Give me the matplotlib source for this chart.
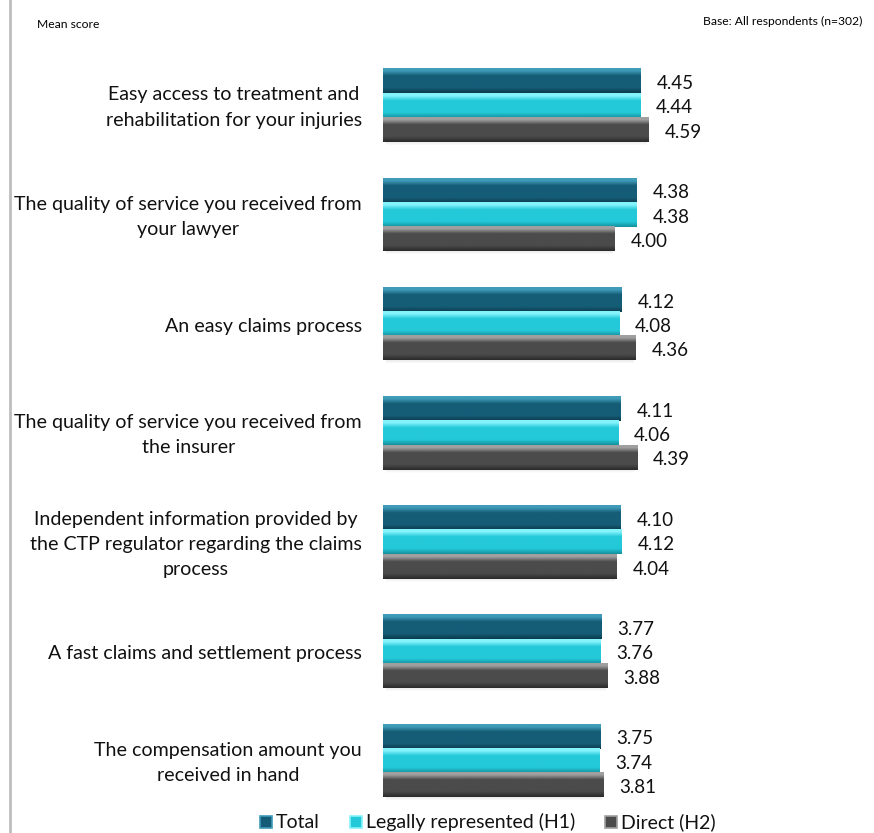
import numpy as np
import matplotlib.pyplot as plt
from matplotlib.patches import Rectangle
from matplotlib.colors import to_rgb
from matplotlib.lines import Line2D
import matplotlib.transforms as mtransforms

plt.rcParams['font.family'] = ['Lato', 'DejaVu Sans']

categories = [
    'Easy access to treatment and\nrehabilitation for your injuries',
    'The quality of service you received from\nyour lawyer',
    'An easy claims process',
    'The quality of service you received from\nthe insurer',
    'Independent information provided by\nthe CTP regulator regarding the claims\nprocess',
    'A fast claims and settlement process',
    'The compensation amount you\nreceived in hand',
]
total = [4.45, 4.38, 4.12, 4.11, 4.10, 3.77, 3.75]
legal = [4.44, 4.38, 4.08, 4.06, 4.12, 3.76, 3.74]
direct = [4.59, 4.00, 4.36, 4.39, 4.04, 3.88, 3.81]
series_names = ['Total', 'Legally represented (H1)', 'Direct (H2)']

# (highlight, body, dark edge) for each series
palettes = [
    ('#3f9bb8', '#155d77', '#0c3b4d'),
    ('#85f3fb', '#24c9d9', '#13909d'),
    ('#a0a0a0', '#4b4b4b', '#2a2a2a'),
]


def bevel_gradient(hi, body, lo, n=60):
    hi, body, lo = (np.array(to_rgb(c)) for c in (hi, body, lo))
    rows = []
    for v in np.linspace(0, 1, n):
        if v < 0.1:
            c = hi
        elif v < 0.3:
            c = hi + (body - hi) * ((v - 0.1) / 0.2)
        elif v < 0.78:
            c = body
        else:
            c = body + (lo - body) * ((v - 0.78) / 0.22)
        rows.append(c)
    return np.array(rows)[:, None, :]


W, H = 874, 833
fig = plt.figure(figsize=(W / 100, H / 100), dpi=100)

px_per_unit = 57.9
x0_px = 383
xmax = 5.5
pitch = 109.2
first_center = 105.5
ax = fig.add_axes([x0_px / W, 0, xmax * px_per_unit / W, 1])
ax.axis('off')

bar_h = 24.3 / pitch
offsets = [-bar_h, 0, bar_h]
for s, vals in enumerate([total, legal, direct]):
    grad = bevel_gradient(*palettes[s])
    for i, v in enumerate(vals):
        yc = i + offsets[s]
        top, bot = yc - bar_h / 2, yc + bar_h / 2
        if s == 2:
            # soft shadow under the bottom bar of each group
            for k in range(7):
                ax.fill_between([0.05, v - 0.03], bot + 0.004 * k, bot + 0.004 * (k + 1),
                                color='#666666', alpha=0.12 * (7 - k) / 7, lw=0, zorder=1)
        ax.imshow(grad, extent=(0, v, bot, top), aspect='auto', zorder=2,
                  interpolation='bilinear')
        ax.text(v + 16 / px_per_unit, yc + 0.022, f'{v:.2f}', ha='left', va='center',
                fontsize=13.5, color='#111111')

ax.set_xlim(0, xmax)
ax.set_ylim((H - first_center) / pitch, -first_center / pitch)

# category labels, right-aligned block with centred lines
trans = mtransforms.blended_transform_factory(fig.transFigure, ax.transData)
for i, lab in enumerate(categories):
    ax.text(362 / W, i + 0.02, lab, transform=trans, ha='right', va='center',
            multialignment='center', fontsize=14.1, color='#111111',
            linespacing=1.6)

fig.text(37 / W, 1 - 25 / H, 'Mean score', fontsize=8.7, va='center', ha='left')
fig.text(862 / W, 1 - 21 / H, 'Base: All respondents (n=302)', fontsize=8.7,
         va='center', ha='right')

fig.add_artist(Line2D([10 / W, 10 / W], [0, 1], color='#bdbdbd', lw=2))

# legend row at the bottom
leg_y = 822
leg_x = [260, 350, 605]
for (hi, body, lo), name, lx in zip(palettes, series_names, leg_x):
    fig.add_artist(Rectangle((lx / W, (H - leg_y - 6) / H), 12 / W, 12 / H,
                             transform=fig.transFigure, facecolor=body,
                             edgecolor=hi, lw=1.2))
    fig.text((lx + 16) / W, 1 - leg_y / H, name, fontsize=14, va='center',
             ha='left', color='#111111')

fig.savefig('out.png', dpi=100)
